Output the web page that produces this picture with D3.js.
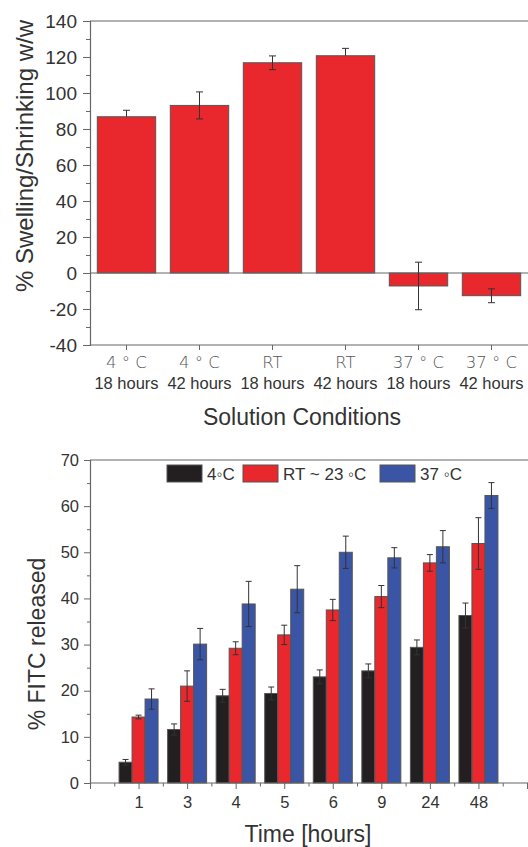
<!DOCTYPE html>
<html><head><meta charset="utf-8">
<script src="https://cdn.jsdelivr.net/npm/d3@7/dist/d3.min.js"></script>
<style>
html,body{margin:0;padding:0;background:#fff;}
svg{display:block;font-family:"Liberation Sans",Arial,sans-serif;}
</style></head>
<body>
<svg id="chart" width="528" height="847"></svg>
<script>
// ---- Top chart data ----
const topLine1 = ["4 ° C","4 ° C","RT","RT","37 ° C","37 ° C"];
const topLine2 = ["18 hours","42 hours","18 hours","42 hours","18 hours","42 hours"];
const topValues = [86.8, 93.1, 116.8, 120.7, -7.2, -12.6];
const topErrUp = [3.6, 7.5, 3.8, 4.1, 13.2, 3.8];
const topErrDown = [0, 7.5, 3.8, 0, 13.2, 3.9];
const topYTicks = [-40,-20,0,20,40,60,80,100,120,140];

// ---- Bottom chart data ----
const times = ["1","3","4","5","6","9","24","48"];
const seriesNames = ["4◦C","RT ~ 23 ◦C","37 ◦C"];
const cold = [4.5, 11.6, 18.9, 19.4, 23.0, 24.3, 29.4, 36.3];
const coldErr = [0.6, 1.2, 1.4, 1.4, 1.5, 1.5, 1.6, 2.7];
const rt = [14.3, 21.0, 29.2, 32.1, 37.5, 40.4, 47.7, 51.9];
const rtErr = [0.4, 3.3, 1.4, 2.1, 2.3, 2.4, 1.8, 5.6];
const warm = [18.2, 30.1, 38.8, 42.0, 50.0, 48.8, 51.2, 62.3];
const warmErr = [2.2, 3.4, 4.9, 5.1, 3.5, 2.2, 3.5, 2.8];
const botYTicks = [0,10,20,30,40,50,60,70];

const RED = "#e8282d", BLUE = "#3a55a5", BLACK = "#231f20";
const AX = "#666", TXT = "#333", ERR = "#333";
const fmt = d => String(d); // plain hyphen-minus like the original

const svg = d3.select("#chart");

// ================= TOP CHART =================
(function(){
  const L = 90, R = 528, T = 21, B = 345;
  const g = svg.append("g");
  const x = d3.scaleBand().domain(d3.range(topValues.length)).range([L, R]).paddingInner(0.2).paddingOuter(0.1);
  const y = d3.scaleLinear().domain([-40, 140]).range([B, T]);

  g.append("line").attr("x1", L).attr("x2", R).attr("y1", y(140)).attr("y2", y(140)).attr("stroke", AX).attr("stroke-width", 1.2);

  g.selectAll("rect.bar").data(topValues).join("rect")
    .attr("x", (d,i) => x(i)).attr("width", x.bandwidth())
    .attr("y", d => y(Math.max(0,d))).attr("height", d => Math.abs(y(d) - y(0)))
    .attr("fill", RED).attr("stroke", "#555").attr("stroke-width", 1);

  g.append("line").attr("x1", L).attr("x2", R).attr("y1", y(0)).attr("y2", y(0)).attr("stroke", AX).attr("stroke-width", 1);

  topValues.forEach((v,i) => {
    const cx = x(i) + x.bandwidth()/2;
    const hi = v + topErrUp[i], lo = v - topErrDown[i];
    g.append("line").attr("x1", cx).attr("x2", cx).attr("y1", y(hi)).attr("y2", y(lo)).attr("stroke", ERR).attr("stroke-width", 1);
    g.append("line").attr("x1", cx-3.5).attr("x2", cx+3.5).attr("y1", y(hi)).attr("y2", y(hi)).attr("stroke", ERR).attr("stroke-width", 1);
    if (topErrDown[i] > 0)
      g.append("line").attr("x1", cx-3.5).attr("x2", cx+3.5).attr("y1", y(lo)).attr("y2", y(lo)).attr("stroke", ERR).attr("stroke-width", 1);
  });

  const ya = g.append("g").attr("transform", `translate(${L},0)`)
    .call(d3.axisLeft(y).tickValues(topYTicks).tickSize(7).tickPadding(6).tickFormat(fmt));
  ya.select(".domain").attr("stroke", AX).attr("stroke-width", 1.2);
  ya.selectAll(".tick line").attr("stroke", AX);
  ya.selectAll("text").attr("font-size", 19).attr("fill", TXT).attr("font-family", "Liberation Sans, Arial, sans-serif");
  const ym = g.append("g").attr("transform", `translate(${L},0)`)
    .call(d3.axisLeft(y).tickValues(d3.range(-30, 140, 20)).tickSize(4).tickFormat(""));
  ym.select(".domain").remove();
  ym.selectAll(".tick line").attr("stroke", AX);

  const xa = g.append("g").attr("transform", `translate(0,${B})`)
    .call(d3.axisBottom(x).tickSize(5).tickFormat(""));
  xa.select(".domain").attr("stroke", AX).attr("stroke-width", 1.2).attr("d", `M${L},0H${R}`);
  xa.selectAll(".tick line").attr("stroke", AX);
  topLine1.forEach((t,i) => {
    const cx = x(i) + x.bandwidth()/2;
    g.append("text").attr("x", cx).attr("y", 368).attr("text-anchor","middle")
      .attr("font-size", 16.5).attr("fill", "#555").attr("font-family","DejaVu Sans, sans-serif").attr("font-weight", 200)
      .style("font-stretch","condensed").text(t);
    g.append("text").attr("x", cx).attr("y", 389).attr("text-anchor","middle")
      .attr("font-size", 16.5).attr("fill", TXT).text(topLine2[i]);
  });

  g.append("text").attr("x", 302).attr("y", 425).attr("text-anchor","middle")
    .attr("font-size", 23).attr("fill", TXT).text("Solution Conditions");
  g.append("text").attr("transform", `translate(33,156) rotate(-90)`).attr("text-anchor","middle")
    .attr("font-size", 24).attr("fill", TXT).text("% Swelling/Shrinking w/w");
})();

// ================= BOTTOM CHART =================
(function(){
  const L = 90, R = 527, T = 460, B = 783;
  const g = svg.append("g");
  const x = d3.scaleLinear().domain([0, 9]).range([L, R]);
  const y = d3.scaleLinear().domain([0, 70]).range([B, T]);
  const inner = d3.scaleBand().domain([0,1,2]).range([-19.5, 19.5]);
  const series = [
    {vals: cold, errs: coldErr, color: BLACK},
    {vals: rt, errs: rtErr, color: RED},
    {vals: warm, errs: warmErr, color: BLUE}
  ];

  g.append("line").attr("x1", L).attr("x2", 528).attr("y1", y(70)).attr("y2", y(70)).attr("stroke", AX).attr("stroke-width", 1.2);

  series.forEach((s, si) => {
    g.selectAll(null).data(s.vals).join("rect")
      .attr("x", (d,i) => x(i+1) + inner(si)).attr("width", inner.bandwidth())
      .attr("y", d => y(d)).attr("height", d => y(0) - y(d))
      .attr("fill", s.color).attr("stroke", "#555").attr("stroke-width", 1);
  });
  series.forEach((s, si) => {
    s.vals.forEach((v,i) => {
      const cx = x(i+1) + inner(si) + inner.bandwidth()/2;
      const hi = v + s.errs[i], lo = v - s.errs[i];
      g.append("line").attr("x1", cx).attr("x2", cx).attr("y1", y(hi)).attr("y2", y(lo)).attr("stroke", ERR).attr("stroke-width", 1);
      [hi, lo].forEach(e => g.append("line").attr("x1", cx-3).attr("x2", cx+3).attr("y1", y(e)).attr("y2", y(e)).attr("stroke", ERR).attr("stroke-width", 1));
    });
  });

  const ya = g.append("g").attr("transform", `translate(${L},0)`)
    .call(d3.axisLeft(y).tickValues(botYTicks).tickSize(6).tickPadding(5).tickFormat(fmt));
  ya.select(".domain").attr("stroke", AX).attr("stroke-width", 1.2);
  ya.selectAll(".tick line").attr("stroke", AX);
  ya.selectAll("text").attr("font-size", 16.5).attr("fill", TXT).attr("font-family", "Liberation Sans, Arial, sans-serif");
  const ym = g.append("g").attr("transform", `translate(${L},0)`)
    .call(d3.axisLeft(y).tickValues(d3.range(5, 70, 10)).tickSize(3).tickFormat(""));
  ym.select(".domain").remove();
  ym.selectAll(".tick line").attr("stroke", AX);

  const xa = g.append("g").attr("transform", `translate(0,${B})`)
    .call(d3.axisBottom(x).tickValues(d3.range(0, 10)).tickSize(6).tickPadding(7)
      .tickFormat(d => (d >= 1 && d <= times.length) ? times[d-1] : ""));
  xa.select(".domain").attr("stroke", AX).attr("stroke-width", 1.2).attr("d", `M${L},0H528`);
  xa.selectAll(".tick line").attr("stroke", AX);
  xa.selectAll("text").attr("font-size", 16.5).attr("fill", TXT).attr("font-family", "Liberation Sans, Arial, sans-serif");
  const xm = g.append("g").attr("transform", `translate(0,${B})`)
    .call(d3.axisBottom(x).tickValues(d3.range(0.5, 9, 1)).tickSize(3.5).tickFormat(""));
  xm.select(".domain").remove();
  xm.selectAll(".tick line").attr("stroke", AX);

  const legX = [167, 243, 380];
  series.forEach((s, si) => {
    g.append("rect").attr("x", legX[si]).attr("y", 465).attr("width", 35).attr("height", 17)
      .attr("fill", s.color).attr("stroke", "#555").attr("stroke-width", 1);
    g.append("text").attr("x", legX[si] + 40).attr("y", 480).attr("font-size", 17).attr("fill", TXT).text(seriesNames[si]);
  });

  g.append("text").attr("x", 308).attr("y", 842).attr("text-anchor","middle")
    .attr("font-size", 23).attr("fill", TXT).text("Time [hours]");
  g.append("text").attr("transform", `translate(45,644) rotate(-90)`).attr("text-anchor","middle")
    .attr("font-size", 23).attr("fill", TXT).text("% FITC released");
})();
</script>
</body></html>
